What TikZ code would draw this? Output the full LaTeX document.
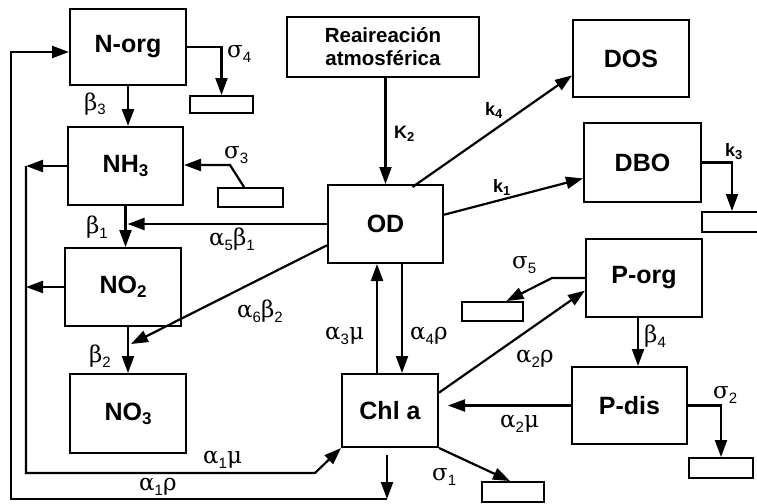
\documentclass[tikz,border=0pt]{standalone}
\usepackage{fontspec}
\setmainfont{Liberation Sans}
\newfontfamily\greekfont{DejaVu Serif}
\usetikzlibrary{arrows.meta,calc}

% subscript inside a compartment name
\newcommand\boxsub[1]{\raisebox{-4pt}{\fontsize{17}{17}\selectfont #1}}
% greek rate symbol with a numeric subscript
\newcommand\gsym[2]{{\greekfont\fontsize{23}{23}\selectfont #1}\raisebox{-5pt}{\fontsize{15}{15}\selectfont #2}}
% plain greek symbol, no subscript
\newcommand\gbare[1]{{\greekfont\fontsize{23}{23}\selectfont #1}}
% kinetic constant k with subscript
\newcommand\ksym[2]{{\bfseries\fontsize{18}{18}\selectfont #1}\raisebox{-3pt}{\bfseries\fontsize{13}{13}\selectfont #2}}

\begin{document}
\begin{tikzpicture}[x=1pt,y=-1pt,
  stock/.style={draw, line width=2pt, inner sep=0pt, align=center,
                font=\bfseries\fontsize{25}{25}\selectfont},
  sink/.style={draw, line width=2pt, inner sep=0pt},
  flow/.style={line width=2.2pt, -{Triangle[length=17pt,width=12pt]}},
  lbl/.style={anchor=base west, inner sep=0pt}]
\useasboundingbox (0,0) rectangle (757,503);

% compartments
\node[stock, minimum width=116pt, minimum height=76pt] (norg) at (128,47) {N-org};
\node[stock, minimum width=115pt, minimum height=78pt] (nh3) at (125.5,166) {NH\boxsub{3}};
\node[stock, minimum width=116pt, minimum height=78pt] (no2) at (123,287) {NO\boxsub{2}};
\node[stock, minimum width=116pt, minimum height=79pt] (no3) at (128,413.5) {NO\boxsub{3}};
\node[stock, minimum width=192pt, minimum height=60pt,
      font=\bfseries\fontsize{20.5}{23}\selectfont] (reai) at (383,47) {Reaireación\\atmosférica};
\node[stock, minimum width=115pt, minimum height=78pt] (od) at (385.5,224) {OD};
\node[stock, minimum width=116pt, minimum height=77pt] (dos) at (631,58.5) {DOS};
\node[stock, minimum width=117pt, minimum height=79pt] (dbo) at (642.5,162.5) {DBO};
\node[stock, minimum width=116pt, minimum height=78pt] (porg) at (644,278) {P-org};
\node[stock, minimum width=115pt, minimum height=77pt] (pdis) at (629.5,405.5) {P-dis};
\node[stock, minimum width=96pt, minimum height=73pt] (chla) at (390,410.5) {Chl a};

% sinks
\node[sink, minimum width=63pt, minimum height=17pt] (s4) at (221.5,104.5) {};
\node[sink, minimum width=65pt, minimum height=19pt] (s3) at (250.5,197.5) {};
\node[sink, minimum width=60pt, minimum height=20pt] (s6) at (732,222) {};
\node[sink, minimum width=61pt, minimum height=19pt] (s5) at (492.5,311.5) {};
\node[sink, minimum width=62pt, minimum height=20pt] (s1) at (513,492) {};
\node[sink, minimum width=64pt, minimum height=20pt] (s2) at (721,468) {};

% bend points
\coordinate (ot) at (11,52);
\coordinate (ol) at (11,499);
\coordinate (ob) at (387,499);
\coordinate (it) at (26,166);
\coordinate (ib) at (26,473);
\coordinate (ic) at (315,473);
\coordinate (s3k) at (230,165);
\coordinate (x3) at (377,0);
\coordinate (x4) at (402,0);
\coordinate (xb4) at (638,0);
\coordinate (m2) at (131,344);

% nitrogen chain
\draw[flow] (norg.south) -- (norg.south |- nh3.north);
\draw[flow] (nh3.south) -- (nh3.south |- no2.north);
\draw[flow] (no3.north |- no2.south) -- (no3.north);
\draw[flow] (norg.east) -- (norg.east -| s4.north) -- (s4.north);
\draw[flow] ($(s3.north west)+(27,0)$) -- (s3k) -- (nh3.east |- s3k);

% uptake towards chlorophyll
\draw[flow] (nh3.west) -- (nh3.west -| it);
\draw[flow] (no2.west) -- (no2.west -| it);
\draw[flow] (it) -- (ib) -- (ic) -- (chla.south west);

% return to organic nitrogen
\draw[flow] ($(chla.south)+(-3,7)$) -- (ob);
\draw[flow] (ob) -- (ol) -- (ot) -- (norg.west |- ot);

% oxygen terms
\draw[flow] (od.west) -- ($(nh3.south |- od.west)+(2,0)$);
\draw[flow] (od.200) -- (m2);
\draw[flow] (od.north |- reai.south) -- (od.north);
\draw[flow] ($(od.north)+(27,3)$) -- (dos.196);
\draw[flow] (od.9) -- (dbo.195);
\draw[flow] (dbo.east) -- (dbo.east -| s6.north) -- (s6.north);
\draw[flow] (od.south -| x4) -- (chla.north -| x4);
\draw[flow] (chla.north -| x3) -- (od.south -| x3);

% phosphorus
\draw[flow] (chla.20) -- (porg.192);
\draw[flow] (porg.west) -- ++(-33,0) -- ($(s5.north)+(14,0)$);
\draw[flow] (porg.south -| xb4) -- (pdis.north -| xb4);
\draw[flow] (pdis.west) -- ($(chla.east |- pdis.west)+(9,0)$);
\draw[flow] (pdis.east) -- (pdis.east -| s2.north) -- (s2.north);
\draw[flow] (chla.south east) -- ($(s1.north)+(-3,0)$);

% rate labels
\node[lbl] (l1) at (227,58) {\gsym{σ}{4}};
\node[lbl] (l2) at (84,110) {\gsym{β}{3}};
\node[lbl] (l3) at (224,158) {\gsym{σ}{3}};
\node[lbl] (l4) at (86,233) {\gsym{β}{1}};
\node[lbl] (l5) at (209,245) {\gsym{α}{5}\gsym{β}{1}};
\node[lbl] (l6) at (237,317) {\gsym{α}{6}\gsym{β}{2}};
\node[lbl] (l7) at (89,362) {\gsym{β}{2}};
\node[lbl] (l8) at (203,463) {\gsym{α}{1}\gbare{μ}};
\node[lbl] (l9) at (139,490) {\gsym{α}{1}\gbare{ρ}};
\node[lbl] (l10) at (394,138) {\ksym{K}{2}};
\node[lbl] (l11) at (485,115) {\ksym{k}{4}};
\node[lbl] (l12) at (493,192) {\ksym{k}{1}};
\node[lbl] (l13) at (725,156) {\ksym{k}{3}};
\node[lbl] (l14) at (512,268) {\gsym{σ}{5}};
\node[lbl] (l15) at (325,339) {\gsym{α}{3}\gbare{μ}};
\node[lbl] (l16) at (410,339) {\gsym{α}{4}\gbare{ρ}};
\node[lbl] (l17) at (516,362) {\gsym{α}{2}\gbare{ρ}};
\node[lbl] (l18) at (644,342) {\gsym{β}{4}};
\node[lbl] (l19) at (500,427) {\gsym{α}{2}\gbare{μ}};
\node[lbl] (l20) at (713,398) {\gsym{σ}{2}};
\node[lbl] (l21) at (432,480) {\gsym{σ}{1}};
\end{tikzpicture}
\end{document}
